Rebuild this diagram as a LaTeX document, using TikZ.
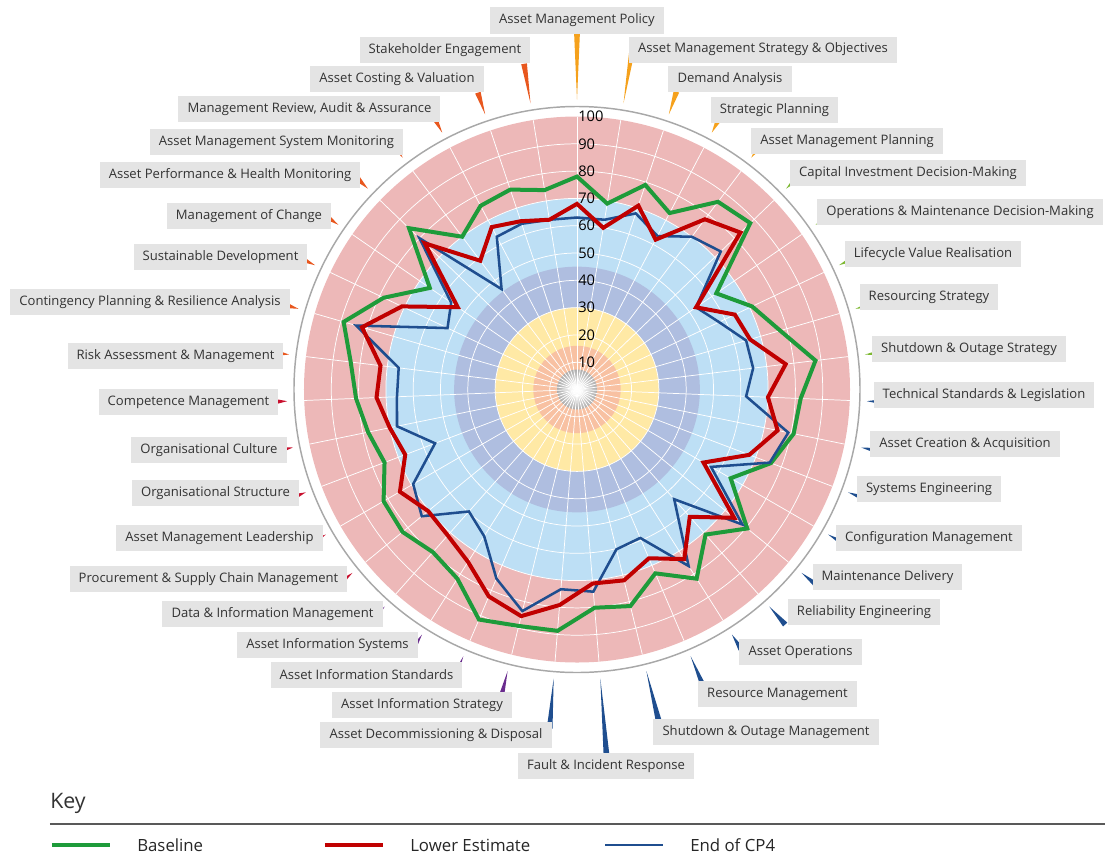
\documentclass[tikz,border=0pt]{standalone}
\usepackage{fontspec}
\setmainfont{Open Sans}
\newfontfamily\chartfont{Open Sans}
\newcommand\labelfont{\chartfont\fontsize{9.8}{11}\selectfont}

\definecolor{pinkband}{HTML}{EDB8B8}
\definecolor{skyband}{HTML}{BDDFF5}
\definecolor{slateband}{HTML}{AFBEE0}
\definecolor{yellowband}{HTML}{FFE9A5}
\definecolor{peachband}{HTML}{F8C1A2}
\definecolor{rimgray}{HTML}{A8A8A8}
\definecolor{boxgray}{HTML}{E4E4E4}
\definecolor{labeltext}{HTML}{333333}
\definecolor{basegreen}{HTML}{1E9B3A}
\definecolor{lowred}{HTML}{C00000}
\definecolor{cpblue}{HTML}{1F4E8F}
\definecolor{grpStrategy}{HTML}{F5A11C}
\definecolor{grpDecision}{HTML}{7DB832}
\definecolor{grpDelivery}{HTML}{1F4E8F}
\definecolor{grpInfo}{HTML}{6A2C8E}
\definecolor{grpPeople}{HTML}{C8102E}
\definecolor{grpRisk}{HTML}{E8571E}

% wedge pointing at the rim: #1 subject index, #2 outer radius, #3 colour
\newcommand\labeltick[3]{%
  \fill[#3] ({90-#1*360/39}:290) -- ({90-#1*360/39-165/#2}:#2) -- ({90-#1*360/39+165/#2}:#2) -- cycle;}

\tikzset{
  gridline/.style={white, line width=0.55pt},
  series/.style={line width=3pt, line join=miter, miter limit=6},
  lbl/.style={fill=boxgray, text=labeltext, font=\labelfont, inner xsep=6.8pt, inner ysep=0pt, minimum height=19.5pt},
  scalenum/.style={anchor=west, inner sep=0pt, font=\chartfont\fontsize{11}{12}\selectfont, text=black},
  legendtext/.style={anchor=west, inner sep=0pt, font=\chartfont\fontsize{12.6}{14}\selectfont, text=black!85}
}

\begin{document}
\begin{tikzpicture}[x=0.75pt,y=0.75pt]
\useasboundingbox (-577,-464.5) rectangle (528,389.5);

% rings of the maturity scale (2.73 px per point)
\draw[rimgray, line width=1.1pt] (0,0) circle (283);
\fill[pinkband] (0,0) circle (273);
\fill[skyband] (0,0) circle (191.1);
\fill[slateband] (0,0) circle (122.85);
\fill[yellowband] (0,0) circle (81.9);
\fill[peachband] (0,0) circle (43.7);
\shade[inner color=white, outer color=black!32] (0,0) circle (20);

% polar grid
\foreach \v in {10,20,...,90} \draw[gridline] (0,0) circle ({\v*2.73});
\foreach \k in {0,...,38} \draw[gridline] (0,0) -- ({90-\k*360/39}:273);

% scale numbers
\foreach \v in {10,20,...,100} \node[scalenum] (n\v) at (1,{\v*2.73}) {\v};

% assessment series
\foreach \v [count=\i from 0] in {78,69,79,73,86,88,62,71,77.5,88,82,81,76,65,80.5,71,82,73.2,81.7,80.2,88.7,89.2,91.6,82,79.6,82.5,81.8,75.4,78.1,81,83.5,89,78.4,65.5,85.3,70,76,77.2,74}
  \coordinate (g\i) at ({90-\i*360/39}:{\v*2.73});
\foreach \v [count=\i from 0] in {68,60,71,62,78,83,53,64,66,77,70,75,67.5,53.5,74.3,62.3,73.5,67.2,72,71.3,79.2,85.5,82.4,74.7,71.4,70.4,74.9,67.3,70,73.5,72.5,82,71,53.1,77.3,59,67.2,65,63}
  \coordinate (r\i) at ({90-\i*360/39}:{\v*2.73});
\foreach \v [count=\i from 0] in {63,63,68,63.5,70,73,53,57.6,64.5,65,62,79,75.5,56.7,78.2,53.7,76.5,59.1,60.3,74.3,73.4,83.6,75.3,63.6,59.7,73.4,69.3,55.6,67.3,66,65.8,84.2,52.5,56,80,46,63.2,64,63}
  \coordinate (b\i) at ({90-\i*360/39}:{\v*2.73});

\draw[series, basegreen] (g0) \foreach \i in {1,...,38} { -- (g\i) } -- cycle;
\draw[series, cpblue, line width=1.9pt] (b0) \foreach \i in {1,...,38} { -- (b\i) } -- cycle;
\draw[series, lowred] (r0) \foreach \i in {1,...,38} { -- (r\i) } -- cycle;

% subject wedges
\labeltick{0}{356}{grpStrategy}
\labeltick{1}{345}{grpStrategy}
\labeltick{2}{314}{grpStrategy}
\labeltick{3}{305}{grpStrategy}
\labeltick{4}{304}{grpStrategy}
\labeltick{5}{304}{grpDecision}
\labeltick{6}{304}{grpDecision}
\labeltick{7}{305}{grpDecision}
\labeltick{8}{305}{grpDecision}
\labeltick{9}{306}{grpDecision}
\labeltick{10}{307}{grpDelivery}
\labeltick{11}{307}{grpDelivery}
\labeltick{12}{307}{grpDelivery}
\labeltick{13}{308}{grpDelivery}
\labeltick{14}{310}{grpDelivery}
\labeltick{15}{314}{grpDelivery}
\labeltick{16}{307}{grpDelivery}
\labeltick{17}{324}{grpDelivery}
\labeltick{18}{340}{grpDelivery}
\labeltick{19}{366}{grpDelivery}
\labeltick{20}{340}{grpDelivery}
\labeltick{21}{318}{grpInfo}
\labeltick{22}{313}{grpInfo}
\labeltick{23}{307}{grpInfo}
\labeltick{24}{307}{grpInfo}
\labeltick{25}{305}{grpPeople}
\labeltick{26}{304}{grpPeople}
\labeltick{27}{303}{grpPeople}
\labeltick{28}{303}{grpPeople}
\labeltick{29}{303}{grpPeople}
\labeltick{30}{303}{grpRisk}
\labeltick{31}{303}{grpRisk}
\labeltick{32}{304}{grpRisk}
\labeltick{33}{304}{grpRisk}
\labeltick{34}{304}{grpRisk}
\labeltick{35}{305}{grpRisk}
\labeltick{36}{307}{grpRisk}
\labeltick{37}{313}{grpRisk}
\labeltick{38}{330}{grpRisk}

% subject labels
\node[lbl] (s0) at (0,369) {Asset Management Policy};
\node[lbl] (s1) at (186,340) {Asset Management Strategy \& Objectives};
\node[lbl] (s2) at (153,310.5) {Demand Analysis};
\node[lbl] (s3) at (197.5,279.5) {Strategic Planning};
\node[lbl] (s4) at (270,248.5) {Asset Management Planning};
\node[lbl] (s5) at (331,216.5) {Capital Investment Decision-Making};
\node[lbl] (s6) at (383,177.5) {Operations \& Maintenance Decision-Making};
\node[lbl] (s7) at (356,135.5) {Lifecycle Value Realisation};
\node[lbl] (s8) at (352,92.5) {Resourcing Strategy};
\node[lbl] (s9) at (392,40.5) {Shutdown \& Outage Strategy};
\node[lbl] (s10) at (407,-5.5) {Technical Standards \& Legislation};
\node[lbl] (s11) at (388,-54.5) {Asset Creation \& Acquisition};
\node[lbl] (s12) at (352,-99.5) {Systems Engineering};
\node[lbl] (s13) at (352,-148.5) {Configuration Management};
\node[lbl] (s14) at (310.5,-187.5) {Maintenance Delivery};
\node[lbl] (s15) at (287,-222.5) {Reliability Engineering};
\node[lbl] (s16) at (223.5,-262.5) {Asset Operations};
\node[lbl] (s17) at (200.5,-304.5) {Resource Management};
\node[lbl] (s18) at (189,-342.5) {Shutdown \& Outage Management};
\node[lbl] (s19) at (29,-376.5) {Fault \& Incident Response};
\node[lbl] (s20) at (-141,-345.5) {Asset Decommissioning \& Disposal};
\node[lbl] (s21) at (-155,-315.5) {Asset Information Strategy};
\node[lbl] (s22) at (-210.5,-285.5) {Asset Information Standards};
\node[lbl] (s23) at (-249.5,-255.5) {Asset Information Systems};
\node[lbl] (s24) at (-304.5,-224.5) {Data \& Information Management};
\node[lbl] (s25) at (-368.5,-189.5) {Procurement \& Supply Chain Management};
\node[lbl] (s26) at (-357.5,-148.5) {Asset Management Leadership};
\node[lbl] (s27) at (-361.5,-103.5) {Organisational Structure};
\node[lbl] (s28) at (-368,-60.5) {Organisational Culture};
\node[lbl] (s29) at (-388.5,-12.5) {Competence Management};
\node[lbl] (s30) at (-401.5,33.5) {Risk Assessment \& Management};
\node[lbl] (s31) at (-427,87.5) {Contingency Planning \& Resilience Analysis};
\node[lbl] (s32) at (-356.5,132.5) {Sustainable Development};
\node[lbl] (s33) at (-328,173.5) {Management of Change};
\node[lbl] (s34) at (-347,214.5) {Asset Performance \& Health Monitoring};
\node[lbl] (s35) at (-300.5,247.5) {Asset Management System Monitoring};
\node[lbl] (s36) at (-267.5,280.5) {Management Review, Audit \& Assurance};
\node[lbl] (s37) at (-180,310.5) {Asset Costing \& Valuation};
\node[lbl] (s38) at (-132,339.5) {Stakeholder Engagement};

% key
\node[anchor=west, inner sep=0pt, font=\chartfont\fontsize{16}{18}\selectfont, text=black!80] (keytitle) at (-527,-413.5) {Key};
\coordinate (ruleL) at (-527,-434.5);
\coordinate (ruleR) at (528,-434.5);
\draw[black!65, line width=0.9pt] (ruleL) -- (ruleR);
\coordinate (kg1) at (-525,-455.5); \coordinate (kg2) at (-467,-455.5);
\coordinate (kr1) at (-252,-455.5); \coordinate (kr2) at (-194,-455.5);
\coordinate (kb1) at (28,-455.5);   \coordinate (kb2) at (86,-455.5);
\draw[basegreen, line width=3pt] (kg1) -- (kg2);
\draw[lowred, line width=3pt] (kr1) -- (kr2);
\draw[cpblue, line width=1.9pt] (kb1) -- (kb2);
\node[legendtext] (kgt) at (-440,-455.5) {Baseline};
\node[legendtext] (krt) at (-167,-455.5) {Lower Estimate};
\node[legendtext] (kbt) at (113,-455.5) {End of CP4};
\end{tikzpicture}
\end{document}
